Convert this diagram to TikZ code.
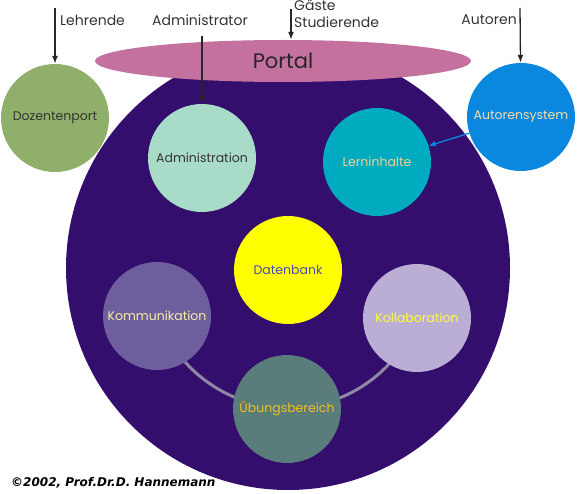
\documentclass[tikz,border=0pt]{standalone}
\usepackage{fontspec}
\setmainfont{Poppins}
\newfontfamily\copyfont{DejaVu Sans}
\usetikzlibrary{arrows.meta,positioning,shapes.geometric}
\definecolor{campus}{HTML}{330E6C}
\definecolor{portcol}{HTML}{C471A0}
\definecolor{dozcol}{HTML}{8FAF6A}
\definecolor{admcol}{HTML}{A8DCC8}
\definecolor{lerncol}{HTML}{00AABF}
\definecolor{autocol}{HTML}{0A88E0}
\definecolor{dbcol}{HTML}{FFFF00}
\definecolor{kommcol}{HTML}{6E5E9E}
\definecolor{kollcol}{HTML}{BAAED4}
\definecolor{uebcol}{HTML}{5A7C7A}
\definecolor{ringgray}{HTML}{8C88A6}
\definecolor{lerntext}{HTML}{F2D28E}
\definecolor{autotext}{HTML}{F5DCA8}
\definecolor{dbtext}{HTML}{4A4AA8}
\definecolor{kommtext}{HTML}{F5F0A0}
\definecolor{kolltext}{HTML}{FFFF30}
\definecolor{uebtext}{HTML}{F0C020}
\begin{document}
\begin{tikzpicture}[x=1pt, y=-1pt,
  disc/.style={circle, inner sep=0pt, minimum size=108pt, font=\fontsize{12.5}{14}\selectfont},
  role/.style={inner sep=0pt, font=\fontsize{14}{17}\selectfont, text=black!80},
  arrow/.style={-{Latex[length=8pt,width=6pt]}, line width=1.3pt, black!85},
  link/.style={line width=3pt, color=ringgray}
]
\useasboundingbox (0,0) rectangle (577,494);
% campus and inner modules
\node[circle, fill=campus, minimum size=444pt, inner sep=0pt] (campus) at (288,268) {};
\node[disc, fill=dbcol, text=dbtext] (db) at (288,270) {Datenbank};
\draw[link] ([shift={(160.7:138)}]db.center) arc[start angle=160.7, end angle=20.4, radius=138];
\node[disc, fill=admcol, text=black!80] (adm) at (202,158) {Administration};
\node[disc, fill=lerncol, text=lerntext] (lern) at (377,162) {Lerninhalte};
\node[disc, fill=kommcol, text=kommtext] (komm) at (157,316) {Kommunikation};
\node[disc, fill=kollcol, text=kolltext] (koll) at (417,318) {Kollaboration};
\node[disc, fill=uebcol, text=uebtext] (ueb) at (287,409) {Übungsbereich};
% outer systems
\node[disc, fill=dozcol, text=black!80] (doz) at (55,118) {Dozentenport};
\node[disc, fill=autocol, text=autotext] (auto) at (521,117) {Autorensystem};
\node[ellipse, fill=portcol, minimum width=376pt, minimum height=42pt, inner sep=0pt,
  font=\fontsize{21}{24}\selectfont, text=black!85] (portal) at (283,61) {Portal};
% user roles
\node[role, anchor=west] (lehr) at (60,20) {Lehrende};
\node[role] (admin) at (200,20) {Administrator};
\node[role, anchor=north west, align=left] (gast) at (294,0) {Gäste\\Studierende};
\node[role, anchor=east] (autor) at (517,20) {Autoren};
\coordinate (lehr-src) at (55,8);
\coordinate (admin-src) at (202,36);
\coordinate (gast-src) at (291,9);
\coordinate (autor-src) at (520,8);
\draw[arrow] (lehr-src) -- (doz);
\draw[arrow] (admin-src) -- (adm);
\draw[arrow] (gast-src) -- (gast-src |- portal.north);
\draw[arrow] (autor-src) -- (auto);
\draw[-{Latex[length=7pt,width=6pt]}, line width=1.3pt, autocol] (auto) -- (lern);
\node[anchor=west, inner sep=0pt, font=\copyfont\bfseries\itshape\fontsize{12}{14}\selectfont] (copy) at (11,483) {\textcopyright2002, Prof.Dr.D. Hannemann};
\end{tikzpicture}
\end{document}
